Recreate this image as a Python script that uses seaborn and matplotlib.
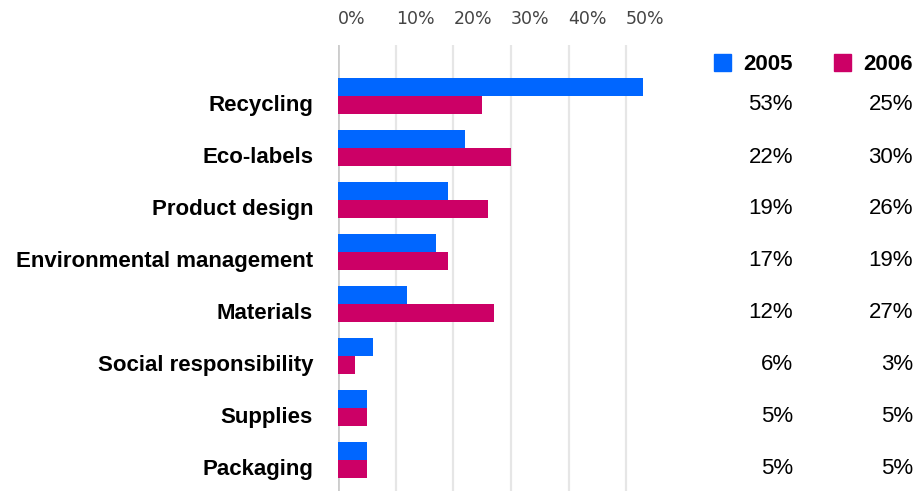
import matplotlib
matplotlib.use("Agg")
import matplotlib.pyplot as plt
import matplotlib.transforms as mtransforms
import seaborn as sns
import pandas as pd

categories = ["Recycling", "Eco-labels", "Product design", "Environmental management",
              "Materials", "Social responsibility", "Supplies", "Packaging"]
values_2005 = [53, 22, 19, 17, 12, 6, 5, 5]
values_2006 = [25, 30, 26, 19, 27, 3, 5, 5]
years = ["2005", "2006"]
tick_values = [0, 10, 20, 30, 40, 50]
tick_labels = ["0%", "10%", "20%", "30%", "40%", "50%"]
colors = {"2005": "#0066FF", "2006": "#CC0066"}

df = pd.DataFrame({
    "category": categories * 2,
    "value": values_2005 + values_2006,
    "year": ["2005"] * len(categories) + ["2006"] * len(categories),
})

sns.set_theme(style="white")
plt.rcParams["font.family"] = ["Liberation Sans", "DejaVu Sans"]

W, H = 917, 491
fig = plt.figure(figsize=(W / 100, H / 100), dpi=100)
ax_left, ax_right, ax_top, ax_bottom = 338, 655, 45, 491
ax = fig.add_axes([ax_left / W, 1 - ax_bottom / H, (ax_right - ax_left) / W, (ax_bottom - ax_top) / H])

sns.barplot(data=df, y="category", x="value", hue="year", orient="h",
            palette=colors, width=0.7, saturation=1, legend=False, ax=ax,
            order=categories, hue_order=years, linewidth=0)

ax.set_xlim(0, 55)
ax.set_ylim(7.6, -0.98)
ax.set_xlabel("")
ax.set_ylabel("")
for s in ax.spines.values():
    s.set_visible(False)
for x in tick_values:
    ax.axvline(x, color="#e6e6e6" if x else "#cccccc", lw=1.6 if x else 2, zorder=0)

ax.xaxis.tick_top()
ax.set_xticks(tick_values)
ax.set_xticklabels(tick_labels, fontsize=12.5, color="#444444",
                   family=["DejaVu Sans"], ha="left")
ax.tick_params(axis="x", length=0, pad=12)
ax.tick_params(axis="y", length=0, pad=18)
ax.set_yticks(range(len(categories)))
ax.set_yticklabels(categories, fontsize=16, fontweight="bold", color="black")
offset = mtransforms.ScaledTranslation(0, -7 / 100, fig.dpi_scale_trans)
for lbl in ax.get_yticklabels():
    lbl.set_transform(lbl.get_transform() + offset)

# Legend + value columns
col_x = {"2005": 793, "2006": 913}
sq_x = {"2005": 714, "2006": 834}
for yr in years:
    fig.patches.append(plt.Rectangle((sq_x[yr] / W, 1 - 71 / H), 17 / W, 17 / H,
                                     transform=fig.transFigure, color=colors[yr]))
    fig.text(col_x[yr] / W, 1 - 65 / H, yr, ha="right", va="center",
             fontsize=16, fontweight="bold", color="black")
for i, cat in enumerate(categories):
    y = 1 - (105 + 52 * i) / H
    fig.text(col_x["2005"] / W, y, f"{values_2005[i]}%", ha="right", va="center",
             fontsize=16, color="black")
    fig.text(col_x["2006"] / W, y, f"{values_2006[i]}%", ha="right", va="center",
             fontsize=16, color="black")

fig.savefig("out.png", dpi=100)
